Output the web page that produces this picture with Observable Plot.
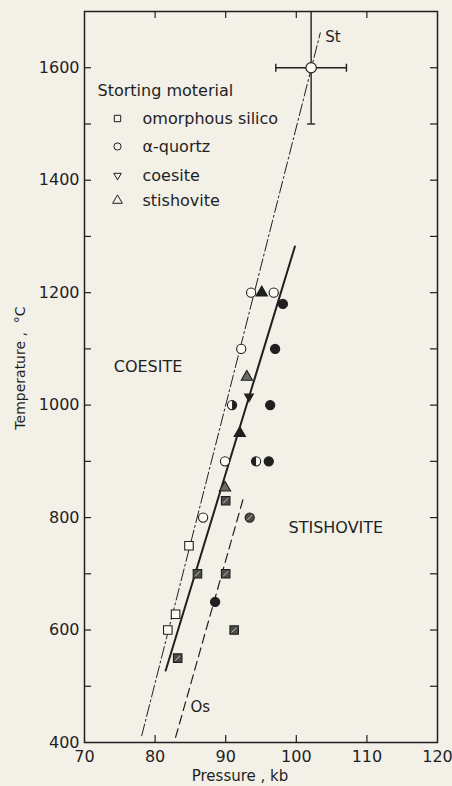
<!DOCTYPE html>
<html>
<head>
<meta charset="utf-8">
<script src="https://cdn.jsdelivr.net/npm/d3@7"></script>
<script src="https://cdn.jsdelivr.net/npm/@observablehq/plot@0.6"></script>
<style>
  html, body { margin: 0; padding: 0; background: #f2f0e7; }
  #chart { width: 452px; height: 786px; }
</style>
</head>
<body>
<div id="chart"></div>
<script>
// ---- data ----
const pressure    = [93.6, 95.1, 96.8, 98.1, 92.2, 97.0, 93.0, 93.3, 90.9, 96.3, 92.0, 89.9, 94.3, 96.1, 89.9, 90.0, 86.8, 93.4, 84.8, 86.0, 90.0, 88.5, 82.9, 81.8, 91.2, 83.2];
const temperature = [1200, 1200, 1200, 1180, 1100, 1100, 1050, 1015, 1000, 1000, 950, 900, 900, 900, 853, 830, 800, 800, 750, 700, 700, 650, 628, 600, 600, 550];
const material    = ["quartz","stishovite","quartz","quartz","quartz","quartz","stishovite","coesite","quartz","quartz","stishovite","quartz","quartz","quartz","stishovite","amorphous","quartz","quartz","amorphous","amorphous","amorphous","quartz","amorphous","amorphous","amorphous","amorphous"];
const product     = ["coesite","stishovite","coesite","stishovite","coesite","stishovite","mixed","stishovite","mixedR","stishovite","stishovite","coesite","mixedL","stishovite","mixed","hatched","coesite","hatched","coesite","hatched","hatched","stishovite","coesite","coesite","hatched","hatched"];

// point at the top with error bars (St)
const stPressure = [102.1], stTemperature = [1600], stPressureErr = [5], stTemperatureErr = [100];

// boundary lines
const stLineP = [78.1, 103.4], stLineT = [412, 1662];     // dash-dot
const eqLineP = [81.5, 99.8],  eqLineT = [528, 1282];     // solid
const osLineP = [82.9, 92.6],  osLineT = [409, 839];      // dashed

const xLabels = [70, 80, 90, 100, 110, 120];
const yLabels = [400, 600, 800, 1000, 1200, 1400, 1600];
const xTicks = [80, 90, 100, 110];
const yTicks = [500, 600, 700, 800, 900, 1000, 1100, 1200, 1300, 1400, 1500, 1600];
const legendTitle = "Storting moterial";
const legendMaterials = ["amorphous", "quartz", "coesite", "stishovite"];
const legendLabels = ["omorphous silico", "α-quortz", "coesite", "stishovite"];

// ---- build ----
const rows = pressure.map((p, i) => ({p, t: temperature[i], m: material[i], r: product[i]}));
const stRows = stPressure.map((p, i) => ({p, t: stTemperature[i], dp: stPressureErr[i], dt: stTemperatureErr[i]}));
const toLine = (P, T) => P.map((p, i) => ({p, t: T[i]}));

const ink = "#1f1f1f";
const paper = "#f2f0e7";
const hollow = "#fbfaf4";

const triDown = {draw(ctx, size) {
  const s = Math.sqrt(size) * 0.6824, t = s / 2, u = s * Math.sqrt(3) / 2;
  ctx.moveTo(0, s); ctx.lineTo(u, -t); ctx.lineTo(-u, -t); ctx.closePath();
}};
const rightHalf = {draw(ctx, size) {
  const r = Math.sqrt(size / Math.PI);
  ctx.moveTo(0, -r); ctx.arc(0, 0, r, -Math.PI / 2, Math.PI / 2); ctx.closePath();
}};
const leftHalf = {draw(ctx, size) {
  const r = Math.sqrt(size / Math.PI);
  ctx.moveTo(0, r); ctx.arc(0, 0, r, Math.PI / 2, 3 * Math.PI / 2); ctx.closePath();
}};
const slash = {draw(ctx, size) {
  const s = Math.sqrt(size) * 0.28;
  ctx.moveTo(-s, s); ctx.lineTo(s, -s);
}};
const vbar = {draw(ctx, size) {
  const r = Math.sqrt(size / Math.PI);
  ctx.moveTo(0, -r); ctx.lineTo(0, r);
}};
const hbar = {draw(ctx, size) {
  const r = Math.sqrt(size / Math.PI);
  ctx.moveTo(-r, 0); ctx.lineTo(r, 0);
}};

const symbolOf = {amorphous: "square", quartz: "circle", coesite: triDown, stishovite: "triangle"};
const sizeOf = {amorphous: 4.8, quartz: 4.6, coesite: 4.2, stishovite: 4.2};
const fillOf = {coesite: hollow, stishovite: ink, mixed: "#6a6a66", mixedL: hollow, mixedR: hollow, hatched: "#4b4b48"};

const W = 452, H = 786;
const mL = 84, mR = 15, mT = 11, mB = 44;
const pw = W - mL - mR, ph = H - mT - mB, tl = 7;

const dotMarks = [];
for (const m of legendMaterials) {
  const sub = rows.filter(d => d.m === m);
  dotMarks.push(Plot.dot(sub, {x: "p", y: "t", symbol: symbolOf[m], r: sizeOf[m], fill: d => fillOf[d.r], stroke: ink, strokeWidth: 1.1}));
}
dotMarks.push(Plot.dot(rows.filter(d => d.r === "mixedR"), {x: "p", y: "t", symbol: rightHalf, r: 4.6, fill: ink}));
dotMarks.push(Plot.dot(rows.filter(d => d.r === "mixedL"), {x: "p", y: "t", symbol: leftHalf, r: 4.6, fill: ink}));
dotMarks.push(Plot.dot(rows.filter(d => d.r === "hatched"), {x: "p", y: "t", symbol: slash, r: 5, stroke: "#c9c7bd", strokeWidth: 1}));

const font = "'DejaVu Sans', 'Liberation Sans', sans-serif";
const legendY = [107, 135, 164, 189];

const chart = Plot.plot({
  width: W, height: H,
  marginLeft: mL, marginRight: mR, marginTop: mT, marginBottom: mB,
  x: {domain: [70, 120]},
  y: {domain: [400, 1700]},
  color: {type: "identity"},
  style: {background: paper, color: ink, fontFamily: font, fontSize: "16px"},
  marks: [
    Plot.frame({stroke: ink, strokeWidth: 1.5}),
    // inward ticks
    Plot.tickY(yTicks, {y: d => d, insetRight: pw - tl, stroke: ink, strokeWidth: 1.2}),
    Plot.tickY(yTicks, {y: d => d, insetLeft: pw - tl, stroke: ink, strokeWidth: 1.2}),
    Plot.tickX(xTicks, {x: d => d, insetBottom: ph - tl, stroke: ink, strokeWidth: 1.2}),
    Plot.tickX(xTicks, {x: d => d, insetTop: ph - tl, stroke: ink, strokeWidth: 1.2}),
    Plot.axisX({ticks: xLabels, tickSize: 0, tickPadding: 8, label: null, fontSize: 16, fill: ink, tickFormat: d => `${d}`}),
    Plot.axisY({ticks: yLabels, tickSize: 0, tickPadding: 5, label: null, fontSize: 16, fill: ink, tickFormat: d => `${d}`}),
    Plot.text(["Pressure , kb"], {frameAnchor: "bottom", textAnchor: "middle", lineAnchor: "middle", dx: -21, dy: 34, fontSize: 15, fill: ink}),
    Plot.text(["Temperature ,  °C"], {frameAnchor: "left", textAnchor: "middle", lineAnchor: "middle", rotate: -90, dx: -64, dy: -9, fontSize: 14, fill: ink}),
    // boundary lines
    Plot.line(toLine(stLineP, stLineT), {x: "p", y: "t", stroke: ink, strokeWidth: 1, strokeDasharray: "12,3,2,3"}),
    Plot.line(toLine(eqLineP, eqLineT), {x: "p", y: "t", stroke: ink, strokeWidth: 2}),
    Plot.line(toLine(osLineP, osLineT), {x: "p", y: "t", stroke: ink, strokeWidth: 1.2, strokeDasharray: "9,5"}),
    // error bars
    Plot.ruleY(stRows, {y: "t", x1: d => d.p - d.dp, x2: d => d.p + d.dp, stroke: ink, strokeWidth: 1.4}),
    Plot.ruleX(stRows, {x: "p", y1: d => d.t - d.dt, y2: d => d.t + d.dt, stroke: ink, strokeWidth: 1.4}),
    Plot.dot(stRows, {x: d => d.p - d.dp, y: "t", symbol: vbar, r: 4, stroke: ink, strokeWidth: 1.4}),
    Plot.dot(stRows, {x: d => d.p + d.dp, y: "t", symbol: vbar, r: 4, stroke: ink, strokeWidth: 1.4}),
    Plot.dot(stRows, {x: "p", y: d => d.t - d.dt, symbol: hbar, r: 4, stroke: ink, strokeWidth: 1.4}),
    Plot.dot(stRows, {x: "p", y: "t", r: 5.2, fill: hollow, stroke: ink, strokeWidth: 1.2}),
    ...dotMarks,
    // region / line labels
    Plot.text(["St"], {x: () => 104.1, y: () => 1655, textAnchor: "start", fontSize: 15, fill: ink}),
    Plot.text(["Os"], {x: () => 85.0, y: () => 462, textAnchor: "start", fontSize: 15, fill: ink}),
    Plot.text(["COESITE"], {x: () => 79.0, y: () => 1068, fontSize: 16, letterSpacing: "1px", fill: ink}),
    Plot.text(["STISHOVITE"], {x: () => 105.6, y: () => 782, fontSize: 16, letterSpacing: "1px", fill: ink}),
    // legend
    Plot.text([legendTitle], {frameAnchor: "top-left", dx: 13, dy: 79, textAnchor: "start", lineAnchor: "middle", fontSize: 16, fill: ink}),
    ...legendMaterials.map((m, i) => Plot.dot([m], {frameAnchor: "top-left", dx: 33, dy: legendY[i], symbol: symbolOf[m], r: 3.6, fill: "none", stroke: ink, strokeWidth: 1})),
    ...legendLabels.map((s, i) => Plot.text([s], {frameAnchor: "top-left", dx: 58, dy: legendY[i], textAnchor: "start", lineAnchor: "middle", fontSize: 16, fill: ink}))
  ]
});
document.getElementById("chart").appendChild(chart);
</script>
</body>
</html>
